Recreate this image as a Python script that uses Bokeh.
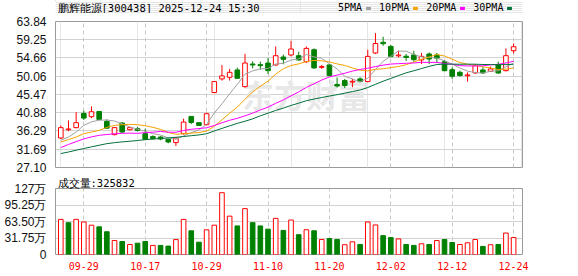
from bokeh.plotting import figure
from bokeh.layouts import column
from bokeh.models import (FixedTicker, Label, Grid, Range1d, ColumnDataSource, PrintfTickFormatter,
                          Legend, LegendItem)
from bokeh.embed import file_html
from bokeh.resources import INLINE

# ---------------- data ----------------
dates = ["09-24", "09-25", "09-26", "09-29", "09-30", "10-09", "10-10", "10-13", "10-14", "10-15",
         "10-16", "10-17", "10-20", "10-21", "10-22", "10-23", "10-24", "10-27", "10-28", "10-29",
         "10-30", "10-31", "11-03", "11-04", "11-05", "11-06", "11-07", "11-10", "11-11", "11-12",
         "11-13", "11-14", "11-17", "11-18", "11-19", "11-20", "11-21", "11-24", "11-25", "11-26",
         "11-27", "11-28", "12-01", "12-02", "12-03", "12-04", "12-05", "12-08", "12-09", "12-10",
         "12-11", "12-12", "12-15", "12-16", "12-17", "12-18", "12-19", "12-22", "12-23", "12-24"]

opens = [34.52, 36.60, 37.13, 40.71, 39.88, 41.21, 38.70, 35.37, 38.28, 36.62,
         36.87, 35.62, 34.87, 34.77, 34.20, 33.37, 35.62, 39.96, 38.38, 37.88,
         45.97, 49.40, 49.80, 51.65, 47.45, 53.14, 52.98, 53.39, 52.90, 54.90,
         55.41, 55.24, 53.73, 56.74, 52.30, 52.91, 48.00, 48.97, 48.60, 49.40,
         48.72, 55.91, 58.60, 57.57, 55.20, 55.10, 55.41, 54.16, 55.66, 55.41,
         53.73, 51.72, 51.05, 50.20, 50.90, 51.65, 51.30, 52.98, 51.47, 56.49]
highs = [37.70, 38.95, 41.03, 41.38, 42.46, 41.30, 39.20, 37.30, 38.53, 37.30,
         37.30, 36.87, 35.20, 34.95, 34.37, 34.77, 39.38, 39.96, 38.45, 40.88,
         48.72, 52.90, 51.90, 52.23, 55.70, 53.81, 53.73, 54.65, 57.56, 55.50,
         58.99, 56.24, 57.57, 57.07, 52.91, 53.16, 49.73, 49.40, 49.40, 49.80,
         56.74, 60.92, 60.00, 57.92, 56.50, 55.66, 56.49, 55.91, 56.07, 55.91,
         54.16, 52.31, 51.47, 51.05, 53.16, 52.31, 52.50, 53.73, 57.07, 58.32]
lows = [34.30, 36.20, 36.95, 39.03, 39.53, 39.00, 36.90, 35.20, 35.77, 36.40,
        36.20, 34.00, 34.20, 33.95, 33.20, 32.52, 35.37, 38.03, 37.53, 37.70,
        45.80, 48.97, 48.97, 49.40, 47.20, 52.06, 51.72, 50.65, 52.73, 53.07,
        55.06, 53.98, 53.41, 51.91, 51.91, 50.06, 47.22, 47.05, 47.30, 48.55,
        48.55, 55.66, 57.74, 54.81, 54.80, 53.91, 53.73, 53.16, 53.16, 53.56,
        51.30, 49.40, 49.98, 48.72, 50.65, 50.65, 51.20, 50.70, 51.30, 55.81]
closes = [37.13, 36.80, 38.38, 39.53, 41.13, 39.21, 37.00, 37.13, 36.02, 37.13,
          36.40, 34.20, 34.37, 34.27, 33.52, 34.52, 38.53, 38.45, 37.70, 40.63,
          48.72, 50.15, 51.05, 49.55, 53.39, 52.90, 52.73, 51.47, 55.23, 54.32,
          56.92, 54.16, 57.07, 52.16, 52.50, 50.23, 47.60, 47.75, 48.80, 48.72,
          55.06, 58.30, 58.25, 55.06, 55.40, 54.80, 54.24, 55.06, 54.41, 54.60,
          51.47, 50.06, 50.23, 50.40, 52.73, 50.90, 51.90, 50.88, 55.24, 57.49]
# volume in units of 万 (10 thousand hands)
volumes = [67.6, 61.2, 67.6, 62.6, 56.4, 53.2, 43.8, 26.9, 25.0, 19.3,
           21.8, 25.0, 17.5, 17.5, 16.2, 28.7, 67.6, 45.6, 23.7, 47.5,
           56.4, 118.9, 73.8, 55.0, 88.3, 61.3, 55.0, 48.8, 69.5, 46.3,
           66.3, 38.1, 47.6, 45.7, 28.8, 30.7, 28.8, 18.8, 24.4, 19.3,
           62.6, 56.9, 36.3, 32.5, 30.0, 19.3, 17.5, 20.6, 19.3, 26.9,
           28.8, 23.1, 19.3, 22.5, 28.8, 15.6, 18.8, 19.3, 41.3, 32.58]

ma5 = [33.94, 34.77, 36.02, 37.70, 38.59, 39.01, 39.05, 38.80, 38.10, 37.30,
       36.74, 36.18, 35.62, 35.27, 34.55, 34.18, 35.04, 35.86, 36.54, 37.97,
       40.81, 43.13, 45.65, 48.02, 50.57, 51.41, 51.92, 52.01, 53.14, 53.33,
       54.13, 54.42, 55.54, 54.93, 54.56, 53.22, 51.91, 50.05, 49.38, 48.62,
       49.59, 51.73, 53.83, 55.08, 56.41, 56.36, 55.55, 54.91, 54.78, 54.62,
       53.96, 53.12, 52.15, 51.35, 50.98, 50.86, 51.32, 51.45, 52.42, 53.37]
ma10 = [33.52, 34.12, 34.77, 35.62, 36.02, 36.45, 37.20, 37.70, 37.88, 37.95,
        37.87, 37.61, 37.21, 36.69, 35.93, 35.46, 35.61, 35.74, 35.91, 36.26,
        37.49, 39.09, 40.75, 42.28, 44.27, 46.11, 47.53, 48.83, 50.58, 51.95,
        52.77, 53.17, 53.77, 54.04, 53.95, 53.68, 53.17, 52.79, 52.15, 51.59,
        51.41, 51.82, 51.94, 52.23, 52.52, 52.97, 53.64, 54.37, 54.93, 55.52,
        55.16, 54.34, 53.53, 53.07, 52.80, 52.41, 52.17, 51.75, 51.84, 52.13]
ma20 = [32.12, 32.90, 33.60, 34.30, 34.80, 35.20, 35.40, 35.60, 35.70, 35.75,
        35.70, 35.87, 35.99, 36.16, 35.98, 35.96, 36.41, 36.72, 36.90, 37.10,
        37.68, 38.35, 38.98, 39.48, 40.10, 40.78, 41.57, 42.29, 43.25, 44.11,
        45.13, 46.13, 47.26, 48.16, 49.11, 49.89, 50.35, 50.81, 51.37, 51.77,
        52.09, 52.50, 52.86, 53.13, 53.23, 53.33, 53.40, 53.58, 53.54, 53.55,
        53.28, 53.08, 52.74, 52.65, 52.66, 52.69, 52.91, 53.07, 53.39, 53.83]
ma30 = [30.61, 31.00, 31.45, 31.87, 32.30, 32.70, 33.10, 33.35, 33.55, 33.70,
        33.90, 34.10, 34.25, 34.40, 34.55, 34.70, 34.90, 35.10, 35.30, 35.60,
        36.29, 36.94, 37.58, 38.20, 38.74, 39.34, 40.11, 40.76, 41.46, 42.05,
        42.71, 43.29, 43.91, 44.33, 44.71, 45.08, 45.43, 45.79, 46.21, 46.60,
        47.22, 48.03, 48.82, 49.51, 50.24, 50.92, 51.44, 52.00, 52.55, 53.02,
        53.11, 53.11, 53.08, 53.11, 53.09, 53.02, 53.00, 52.98, 52.98, 53.08]

price_ticks = [27.10, 31.69, 36.29, 40.88, 45.47, 50.06, 54.66, 59.25, 63.84]
vol_ticks = [0, 31.75, 63.50, 95.25, 127]
vol_tick_labels = ["0", "31.75万", "63.50万", "95.25万", "127万"]
date_tick_idx = [3, 11, 19, 27, 35, 43, 51, 59]
title_text = "鹏辉能源[300438] 2025-12-24 15:30"
vol_title = "成交量:325832"
ma_names = ["5PMA", "10PMA", "20PMA", "30PMA"]
watermark = "东方财富"

# ---------------- styles ----------------
RED = "#ff0000"
GREEN = "#008000"
MA_COLORS = ["#a0a0a0", "#f5a300", "#ff00ff", "#00703a"]
GRID = "#d2d2d2"
VGRID = "#c8c8c8"
FRAME = "#9a9a9a"
LABEL_FONT = "Liberation Sans"
MONO = "DejaVu Sans Mono"
W = 578
BL, BR = 55, 56          # left / right borders shared by all panels

n = len(dates)
idx = list(range(n))
X0, X1 = -0.69, 60.16
BW = 0.6

# ---------------- header (title + MA legend) ----------------
HH = 13
h = figure(width=W, height=HH, x_range=Range1d(BL, W - BR), y_range=Range1d(HH, 0),
           output_backend="svg", toolbar_location=None,
           x_axis_location=None, y_axis_location=None,
           min_border_left=BL, min_border_right=BR, min_border_top=0, min_border_bottom=0,
           background_fill_color="white", border_fill_color="white")
h.outline_line_color = None
h.add_layout(Label(x=57, y=7.5, text=title_text, text_font=MONO, text_font_size="10.5px",
                   text_color="#000000", text_baseline="middle", text_align="left"))
blank = h.vbar(x=[0], top=[-50], bottom=[-60], width=1, fill_alpha=0, line_alpha=0)
swatches = [h.vbar(x=[0], top=[-50], bottom=[-60], width=1, fill_color=c, line_color=None)
            for c in MA_COLORS]
items = [LegendItem(label=ma_names[0], renderers=[blank])]
for k in range(1, len(ma_names)):
    items.append(LegendItem(label=ma_names[k], renderers=[swatches[k - 1]]))
items.append(LegendItem(label=" ", renderers=[swatches[-1]]))
leg = Legend(items=items, orientation="horizontal", location=(324 - BL, 0),
             label_text_font=MONO, label_text_font_size="10px", label_text_color="#000000",
             label_standoff=8, spacing=3, glyph_width=6, glyph_height=4, label_height=8,
             padding=0, margin=0, border_line_color=None, background_fill_alpha=0)
h.add_layout(leg)

# ---------------- price panel ----------------
body_top = [max(o, c) for o, c in zip(opens, closes)]
body_bot = [min(o, c) for o, c in zip(opens, closes)]
is_up = [c >= o for o, c in zip(opens, closes)]
col = [RED if u else GREEN for u in is_up]
fill = ["#ffffff" if u else GREEN for u in is_up]
csrc = ColumnDataSource(dict(x=idx, top=body_top, bot=body_bot, hi=highs, lo=lows,
                             col=col, fill=fill))

p = figure(width=W, height=161, x_range=Range1d(X0, X1),
           y_range=Range1d(price_ticks[0], price_ticks[-1]),
           output_backend="svg", toolbar_location=None, x_axis_location=None,
           min_border_left=BL, min_border_right=BR, min_border_top=8, min_border_bottom=7,
           background_fill_color="white", border_fill_color="white")
p.outline_line_color = FRAME
p.yaxis.ticker = FixedTicker(ticks=price_ticks)
p.yaxis.formatter = PrintfTickFormatter(format="%.2f")
p.yaxis.axis_line_color = None
p.yaxis.major_tick_line_color = None
p.yaxis.minor_tick_line_color = None
p.yaxis.major_label_standoff = 3
p.yaxis.major_label_text_font = LABEL_FONT
p.yaxis.major_label_text_font_size = "12px"
p.yaxis.major_label_text_color = "#111111"
p.ygrid.grid_line_color = GRID
p.add_layout(Grid(dimension=0, ticker=FixedTicker(ticks=date_tick_idx),
                  grid_line_color=VGRID, grid_line_dash="4 3"))

p.add_layout(Label(x=23.6, y=45.6, text=watermark, text_font="Noto Sans CJK SC",
                   text_font_size="32px", text_font_style="bold", text_color="#e8e8e8",
                   text_baseline="middle", text_align="left", level="underlay"))

p.segment(x0="x", y0="hi", x1="x", y1="top", line_color="col", line_width=1, source=csrc)
p.segment(x0="x", y0="bot", x1="x", y1="lo", line_color="col", line_width=1, source=csrc)
p.vbar(x="x", width=BW, top="top", bottom="bot", fill_color="fill", line_color="col",
       line_width=1, source=csrc)

for vals, c in zip([ma5, ma10, ma20, ma30], MA_COLORS):
    p.line(idx, vals, line_color=c, line_width=1)

# ---------------- volume panel ----------------
vup = [True] + [closes[i] >= closes[i - 1] for i in range(1, n)]
vsrc = ColumnDataSource(dict(x=idx, v=volumes,
                             col=[RED if u else GREEN for u in vup],
                             fill=["#ffffff" if u else GREEN for u in vup]))

q = figure(width=W, height=102, x_range=p.x_range, y_range=Range1d(0, vol_ticks[-1]),
           output_backend="svg", toolbar_location=None,
           min_border_left=BL, min_border_right=BR, min_border_top=13, min_border_bottom=22,
           background_fill_color="white", border_fill_color="white")
q.title.text = vol_title
q.title.align = "left"
q.title.offset = 2
q.title.standoff = 0
q.title.text_font = MONO
q.title.text_font_size = "10.5px"
q.title.text_font_style = "normal"
q.title.text_color = "#000000"
q.outline_line_color = FRAME
q.vbar(x="x", width=BW, top="v", bottom=0, fill_color="fill", line_color="col",
       line_width=1, source=vsrc)
q.yaxis.ticker = FixedTicker(ticks=vol_ticks)
q.yaxis.major_label_overrides = {t: s for t, s in zip(vol_ticks, vol_tick_labels)}
q.yaxis.axis_line_color = None
q.yaxis.major_tick_line_color = None
q.yaxis.minor_tick_line_color = None
q.yaxis.major_label_standoff = 3
q.yaxis.major_label_text_font = LABEL_FONT
q.yaxis.major_label_text_font_size = "12px"
q.yaxis.major_label_text_color = "#111111"
q.ygrid.grid_line_color = GRID
q.xaxis.ticker = FixedTicker(ticks=date_tick_idx)
q.xaxis.major_label_overrides = {i: dates[i] for i in date_tick_idx}
q.xaxis.axis_line_color = None
q.xaxis.major_tick_line_color = None
q.xaxis.minor_tick_line_color = None
q.xaxis.major_label_standoff = 1
q.xaxis.major_label_text_font = MONO
q.xaxis.major_label_text_font_size = "10px"
q.xaxis.major_label_text_color = RED
q.xgrid.grid_line_color = VGRID
q.xgrid.grid_line_dash = "4 3"

layout = column(h, p, q, spacing=0)
open("out.html", "w").write(file_html(layout, INLINE))
